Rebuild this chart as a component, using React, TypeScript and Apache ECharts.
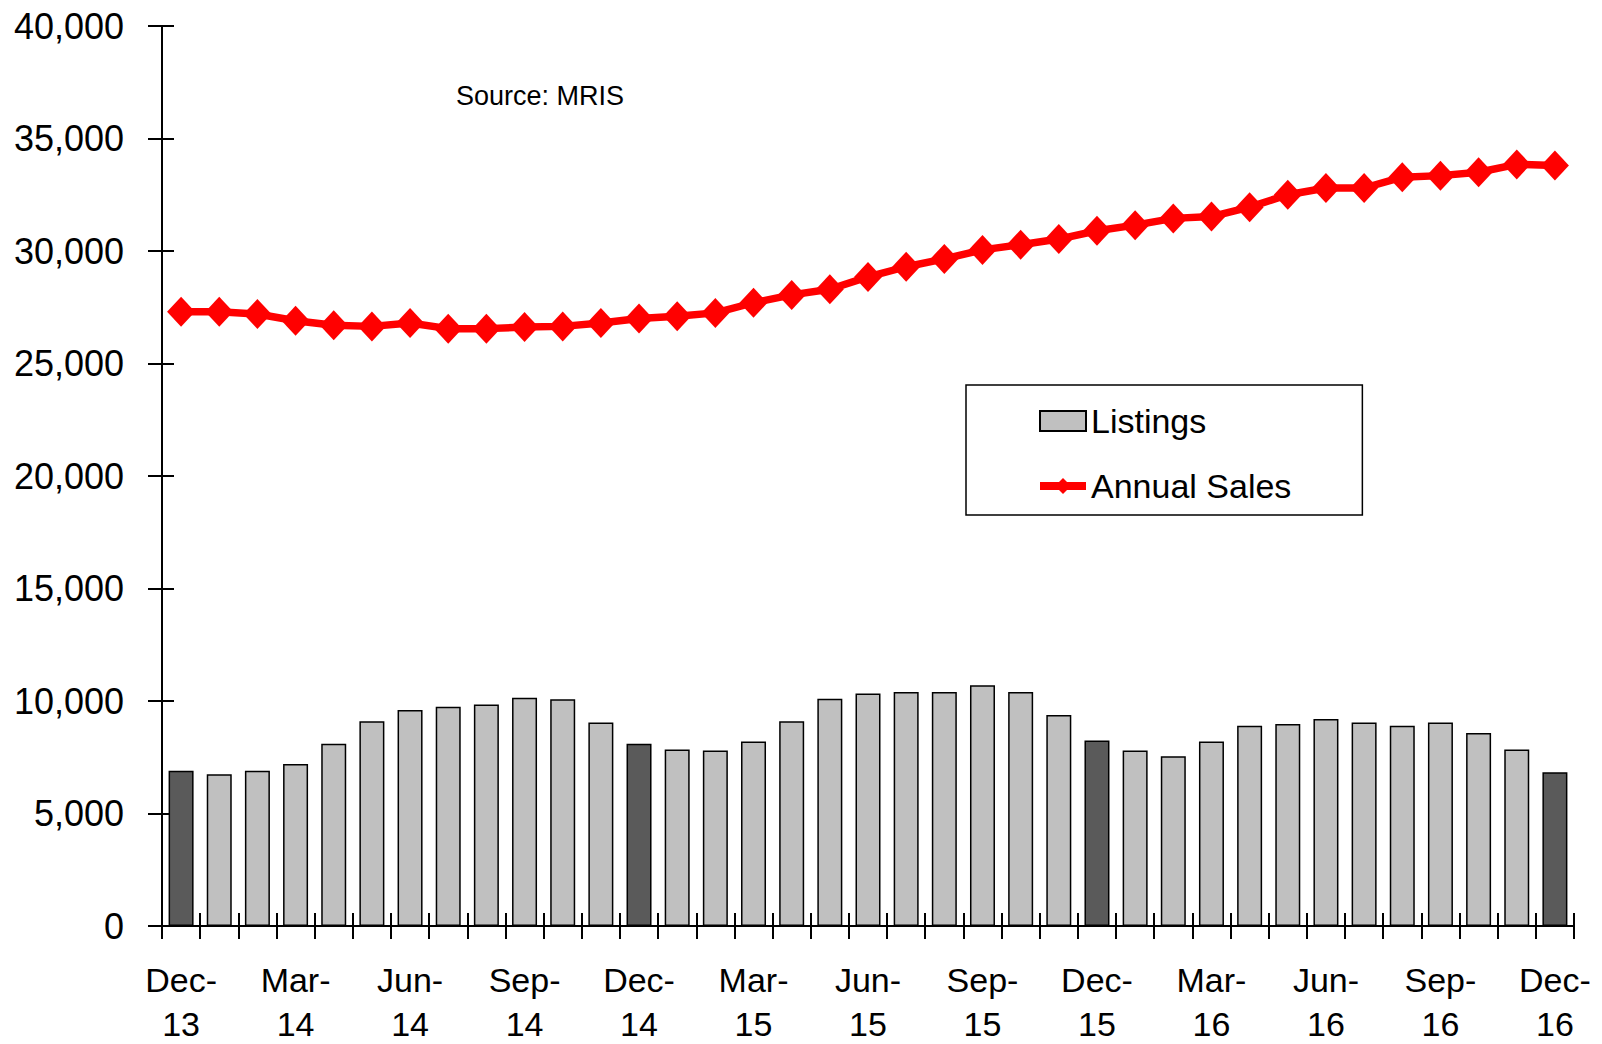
import React, { useEffect, useRef } from "react";
import * as echarts from "echarts";

const categories = [
  "Dec-13", "Jan-14", "Feb-14", "Mar-14", "Apr-14", "May-14", "Jun-14", "Jul-14", "Aug-14", "Sep-14", "Oct-14", "Nov-14",
  "Dec-14", "Jan-15", "Feb-15", "Mar-15", "Apr-15", "May-15", "Jun-15", "Jul-15", "Aug-15", "Sep-15", "Oct-15", "Nov-15",
  "Dec-15", "Jan-16", "Feb-16", "Mar-16", "Apr-16", "May-16", "Jun-16", "Jul-16", "Aug-16", "Sep-16", "Oct-16", "Nov-16",
  "Dec-16",
];

const listings = [
  6900, 6750, 6900, 7200, 8100, 9100, 9600, 9750, 9850, 10150, 10080, 9050,
  8100, 7850, 7800, 8200, 9100, 10100, 10330, 10400, 10400, 10700, 10400, 9380,
  8250, 7800, 7550, 8200, 8900, 8980, 9200, 9050, 8900, 9050, 8580, 7850,
  6830,
];

const annualSales = [
  27300, 27300, 27200, 26900, 26700, 26650, 26800, 26550, 26550, 26620, 26650, 26800,
  27000, 27100, 27250, 27700, 28050, 28300, 28850, 29300, 29650, 30050, 30280, 30530,
  30900, 31150, 31450, 31530, 31950, 32500, 32800, 32800, 33280, 33350, 33500, 33850,
  33800,
];

const yTicks = { min: 0, max: 40000, interval: 5000 };
const sourceText = "Source: MRIS";
const FONT = '"Liberation Sans", Arial, sans-serif';

export default function App() {
  const ref = useRef<HTMLDivElement>(null);
  useEffect(() => {
    if (!ref.current) return;
    const chart = echarts.init(ref.current, null, { renderer: "svg" });
    const barData = listings.map((v, i) => ({
      value: v,
      itemStyle: categories[i].startsWith("Dec") ? { color: "#5a5a5a" } : undefined,
    }));
    chart.setOption({
      animation: false,
      backgroundColor: "#ffffff",
      textStyle: { fontFamily: FONT },
      grid: { left: 162, right: 28, top: 26, bottom: 118, containLabel: false, outerBoundsMode: "none" },
      legend: {
        orient: "vertical",
        left: 966,
        top: 385,
        padding: [19, 71, 12, 70],
        itemGap: 31,
        itemWidth: 46,
        itemHeight: 20,
        borderColor: "#000",
        borderWidth: 1.5,
        textStyle: { fontSize: 34, color: "#000", fontFamily: FONT },
        data: [
          { name: "Listings", icon: "rect" },
          { name: "Annual Sales", lineStyle: { width: 8, color: "#ff0000" } },
        ],
      },
      graphic: [
        {
          type: "text",
          left: 456,
          top: 82,
          style: { text: sourceText, font: `27px ${FONT}`, fill: "#000" },
        },
      ],
      xAxis: [
        {
          type: "category",
          data: categories,
          boundaryGap: true,
          offset: 0,
          position: "bottom",
          axisLine: { show: true, lineStyle: { color: "#000", width: 2 } },
          axisTick: { show: true, inside: false, length: 13, interval: 0, lineStyle: { color: "#000", width: 2 } },
          axisLabel: {
            interval: 2,
            margin: 32,
            fontSize: 34,
            lineHeight: 44,
            color: "#000",
            fontFamily: FONT,
            formatter: (s: string) => s.replace("-", "-\n"),
          },
          splitLine: { show: false },
        },
        {
          type: "category",
          data: categories,
          boundaryGap: true,
          offset: 0,
          position: "bottom",
          axisLine: { show: false },
          axisTick: { show: true, inside: true, length: 13, interval: 0, lineStyle: { color: "#000", width: 2 } },
          axisLabel: { show: false },
          splitLine: { show: false },
        },
      ],
      yAxis: [
        {
          type: "value",
          ...yTicks,
          position: "left",
          offset: 0,
          axisLine: { show: true, lineStyle: { color: "#000", width: 2 } },
          axisTick: { show: true, inside: false, length: 14, lineStyle: { color: "#000", width: 2 } },
          axisLabel: {
            margin: 38,
            fontSize: 36,
            color: "#000",
            fontFamily: FONT,
            formatter: (v: number) => v.toLocaleString("en-US"),
          },
          splitLine: { show: false },
        },
        {
          type: "value",
          ...yTicks,
          position: "left",
          offset: 0,
          axisLine: { show: false },
          axisTick: { show: true, inside: true, length: 12, lineStyle: { color: "#000", width: 2 } },
          axisLabel: { show: false },
          splitLine: { show: false },
        },
      ],
      series: [
        {
          name: "Listings",
          type: "bar",
          xAxisIndex: 0,
          yAxisIndex: 0,
          data: barData,
          barWidth: 25,
          itemStyle: { color: "#c0c0c0", borderColor: "#000", borderWidth: 1.5 },
          z: 2,
        },
        {
          name: "Annual Sales",
          type: "line",
          xAxisIndex: 0,
          yAxisIndex: 0,
          data: annualSales,
          showSymbol: true,
          showAllSymbol: true,
          symbol: "diamond",
          symbolSize: [28, 30],
          itemStyle: { color: "#ff0000" },
          lineStyle: { color: "#ff0000", width: 7.5 },
          z: 3,
        },
      ],
    });
    return () => chart.dispose();
  }, []);
  return <div ref={ref} style={{ position: "absolute", left: 0, top: 0, width: 1602, height: 1044 }} />;
}
